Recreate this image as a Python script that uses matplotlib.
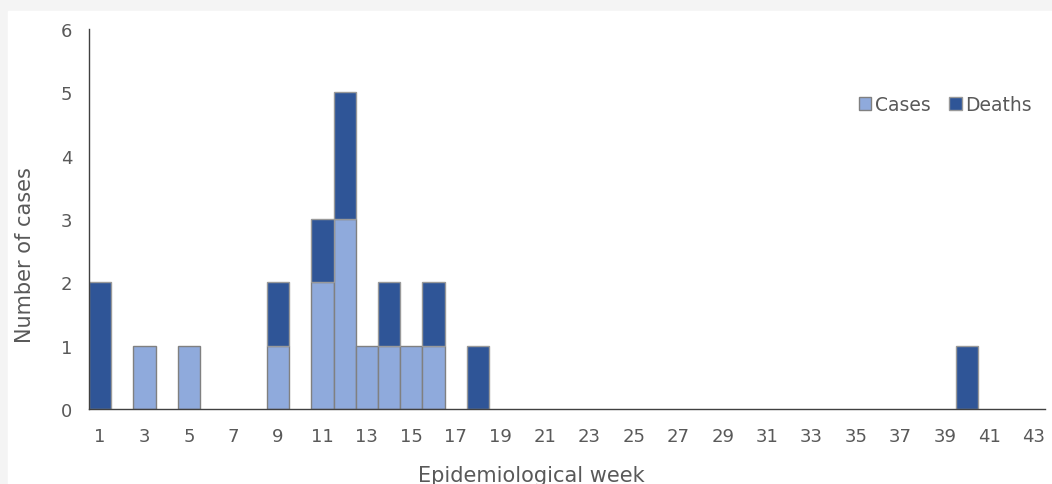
import numpy as np
import matplotlib.pyplot as plt
from matplotlib.patches import Rectangle

plt.rcParams['font.family'] = ['DejaVu Sans']

weeks = np.arange(1, 44)
case_weeks = [3, 5, 9, 11, 12, 13, 14, 15, 16]
case_vals = [1, 1, 1, 2, 3, 1, 1, 1, 1]
death_weeks = [1, 9, 11, 12, 14, 16, 18, 40]
death_vals = [2, 1, 1, 2, 1, 1, 1, 1]

cases = np.zeros(len(weeks))
deaths = np.zeros(len(weeks))
for w, v in zip(case_weeks, case_vals):
    cases[w - 1] = v
for w, v in zip(death_weeks, death_vals):
    deaths[w - 1] = v

txt = '#595959'
fig = plt.figure(figsize=(10.52, 4.85), dpi=100, facecolor='#f4f4f4')
fig.patches.append(Rectangle((8 / 1052, 0), 1, (485 - 12) / 485,
                             transform=fig.transFigure, color='white', zorder=-10))
ax = fig.add_axes([89 / 1052, 75 / 485, 956 / 1052, 380 / 485])
ax.set_facecolor('none')

m = cases > 0
ax.bar(weeks[m], cases[m], width=1, color='#8faadc', edgecolor='#808080',
       linewidth=1, label='Cases')
m = deaths > 0
ax.bar(weeks[m], deaths[m], width=1, bottom=cases[m], color='#2f5597',
       edgecolor='#999999', linewidth=1, label='Deaths')

ax.set_xlim(0.5, 43.5)
ax.set_ylim(0, 6)
ax.set_xticks(np.arange(1, 44, 2))
ax.set_yticks(range(7))
ax.tick_params(length=0, labelsize=13, colors=txt)
ax.tick_params(axis='x', pad=13)
ax.tick_params(axis='y', pad=12)
for s in ['top', 'right']:
    ax.spines[s].set_visible(False)
for s in ['left', 'bottom']:
    ax.spines[s].set_color('#404040')
    ax.spines[s].set_linewidth(1)

fig.text(531 / 1052, 1 - 476 / 485, 'Epidemiological week', fontsize=15,
         color=txt, ha='center', va='center')
fig.text(25 / 1052, 1 - 255 / 485, 'Number of cases', fontsize=15,
         color=txt, ha='center', va='center', rotation=90)

leg = ax.legend(loc='upper right', bbox_to_anchor=(1.0, 0.86), ncol=2,
                frameon=False, fontsize=13.5, handlelength=0.65, handleheight=0.65,
                handletextpad=0.2, columnspacing=1.0, labelcolor=txt,
                borderaxespad=0.3)

fig.savefig('out.png', dpi=100, facecolor=fig.get_facecolor())
